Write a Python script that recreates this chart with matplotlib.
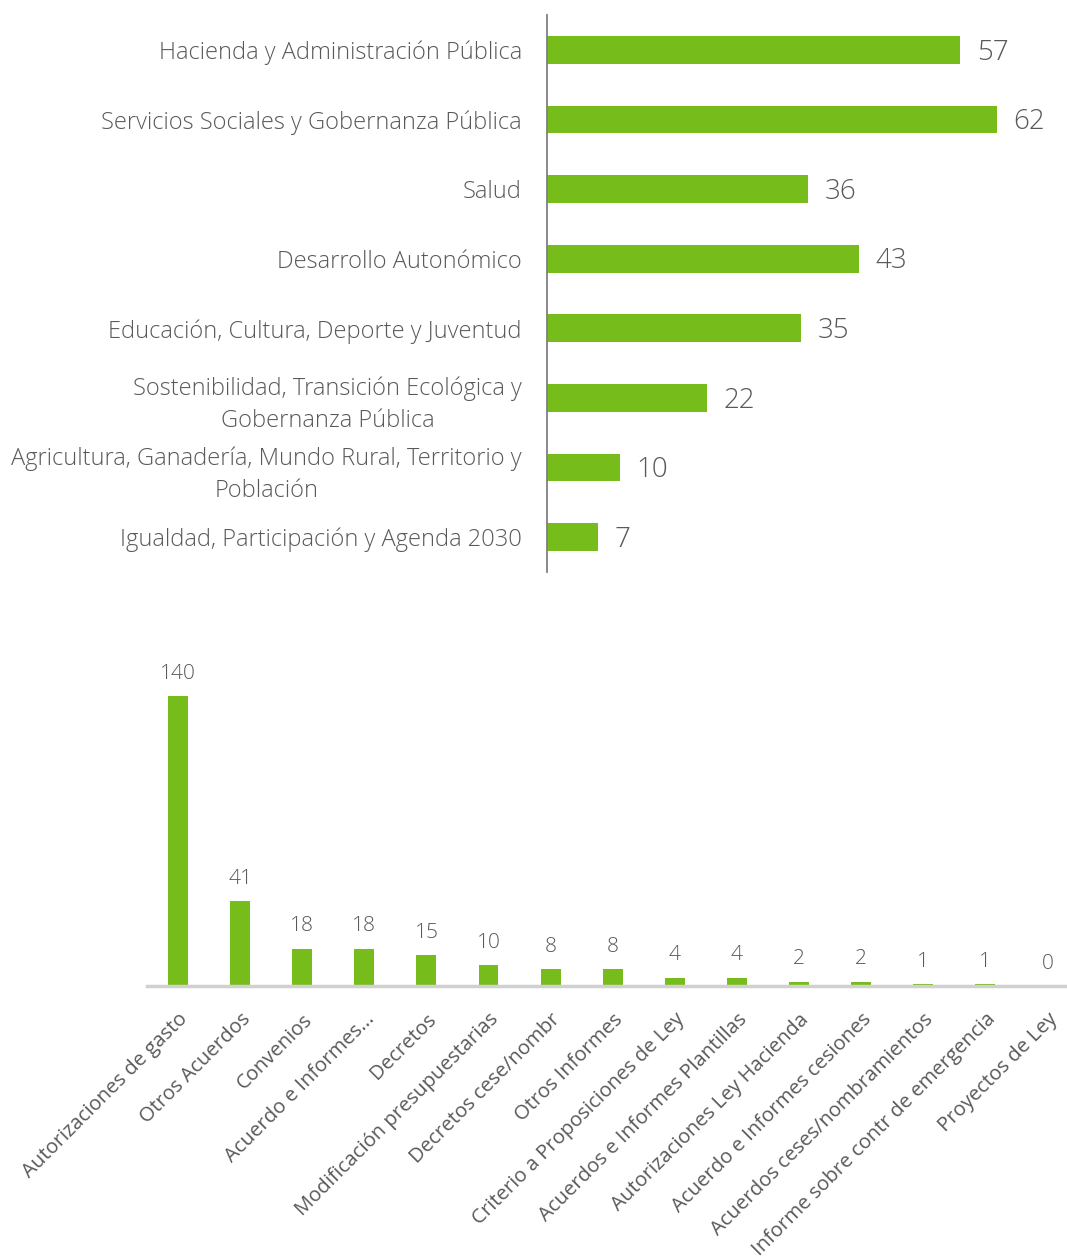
import matplotlib
matplotlib.use("Agg")
from matplotlib import pyplot as plt

# top chart data
consejerias = ["Hacienda y Administración Pública",
               "Servicios Sociales y Gobernanza Pública",
               "Salud",
               "Desarrollo Autonómico",
               "Educación, Cultura, Deporte y Juventud",
               "Sostenibilidad, Transición Ecológica y\nGobernanza Pública",
               "Agricultura, Ganadería, Mundo Rural, Territorio y\nPoblación",
               "Igualdad, Participación y Agenda 2030"]
asuntos_consejeria = [57, 62, 36, 43, 35, 22, 10, 7]

# bottom chart data
tipos = ["Autorizaciones de gasto", "Otros Acuerdos", "Convenios",
         "Acuerdo e Informes...", "Decretos", "Modificación presupuestarias",
         "Decretos cese/nombr", "Otros Informes", "Criterio a Proposiciones de Ley",
         "Acuerdos e Informes Plantillas", "Autorizaciones Ley Hacienda",
         "Acuerdo e Informes cesiones", "Acuerdos ceses/nombramientos",
         "Informe sobre contr de emergencia", "Proyectos de Ley"]
asuntos_tipo = [140, 41, 18, 18, 15, 10, 8, 8, 4, 4, 2, 2, 1, 1, 0]

verde = "#76BC1B"
gris = "#595959"
plt.rcParams['font.family'] = ['Open Sans', 'DejaVu Sans']
plt.rcParams['font.weight'] = 'light'

W, H = 1067, 1259
fig = plt.figure(figsize=(W / 100, H / 100), dpi=100)

# ---- top: horizontal bars
ax1 = fig.add_axes([547 / W, 1 - 572 / H, 513 / W, 557 / H])
ypos = list(range(len(consejerias)))
ax1.barh(ypos, asuntos_consejeria, height=0.4, color=verde)
ax1.set_ylim(len(consejerias) - 0.5, -0.5)
ax1.set_xlim(0, 513 / 7.25)
ax1.set_yticks(ypos)
ax1.set_yticklabels(consejerias, fontsize=17, color=gris, multialignment='center',
                    linespacing=1.45)
ax1.tick_params(axis='y', length=0, pad=18)
ax1.set_xticks([])
for s in ['top', 'right', 'bottom']:
    ax1.spines[s].set_visible(False)
ax1.spines['left'].set_color('#808080')
ax1.spines['left'].set_linewidth(1.3)
for y, v in zip(ypos, asuntos_consejeria):
    ax1.text(v + 2.3, y + 0.04, str(v), va='center', ha='left', fontsize=20, color=gris)

# ---- bottom: vertical bars
ax2 = fig.add_axes([147 / W, 1 - 986 / H, 919 / W, 326 / H])
xpos = list(range(len(tipos)))
ax2.bar(xpos, asuntos_tipo, width=0.32, color=verde)
ax2.set_xlim(-0.5, 14.3)
ax2.set_ylim(0, 326 / 2.07)
ax2.set_yticks([])
ax2.set_xticks(xpos)
ax2.set_xticklabels(tipos, rotation=45, ha='right', rotation_mode='anchor',
                    fontsize=14.6, color=gris, fontweight='normal')
ax2.tick_params(axis='x', length=0, pad=17)
for s in ['top', 'right', 'left']:
    ax2.spines[s].set_visible(False)
ax2.spines['bottom'].set_color('#D0D0D0')
ax2.spines['bottom'].set_linewidth(2.5)
for x, v in zip(xpos, asuntos_tipo):
    ax2.text(x, v + 6, str(v), ha='center', va='bottom', fontsize=15, color=gris)

fig.savefig("out.png", dpi=100)
